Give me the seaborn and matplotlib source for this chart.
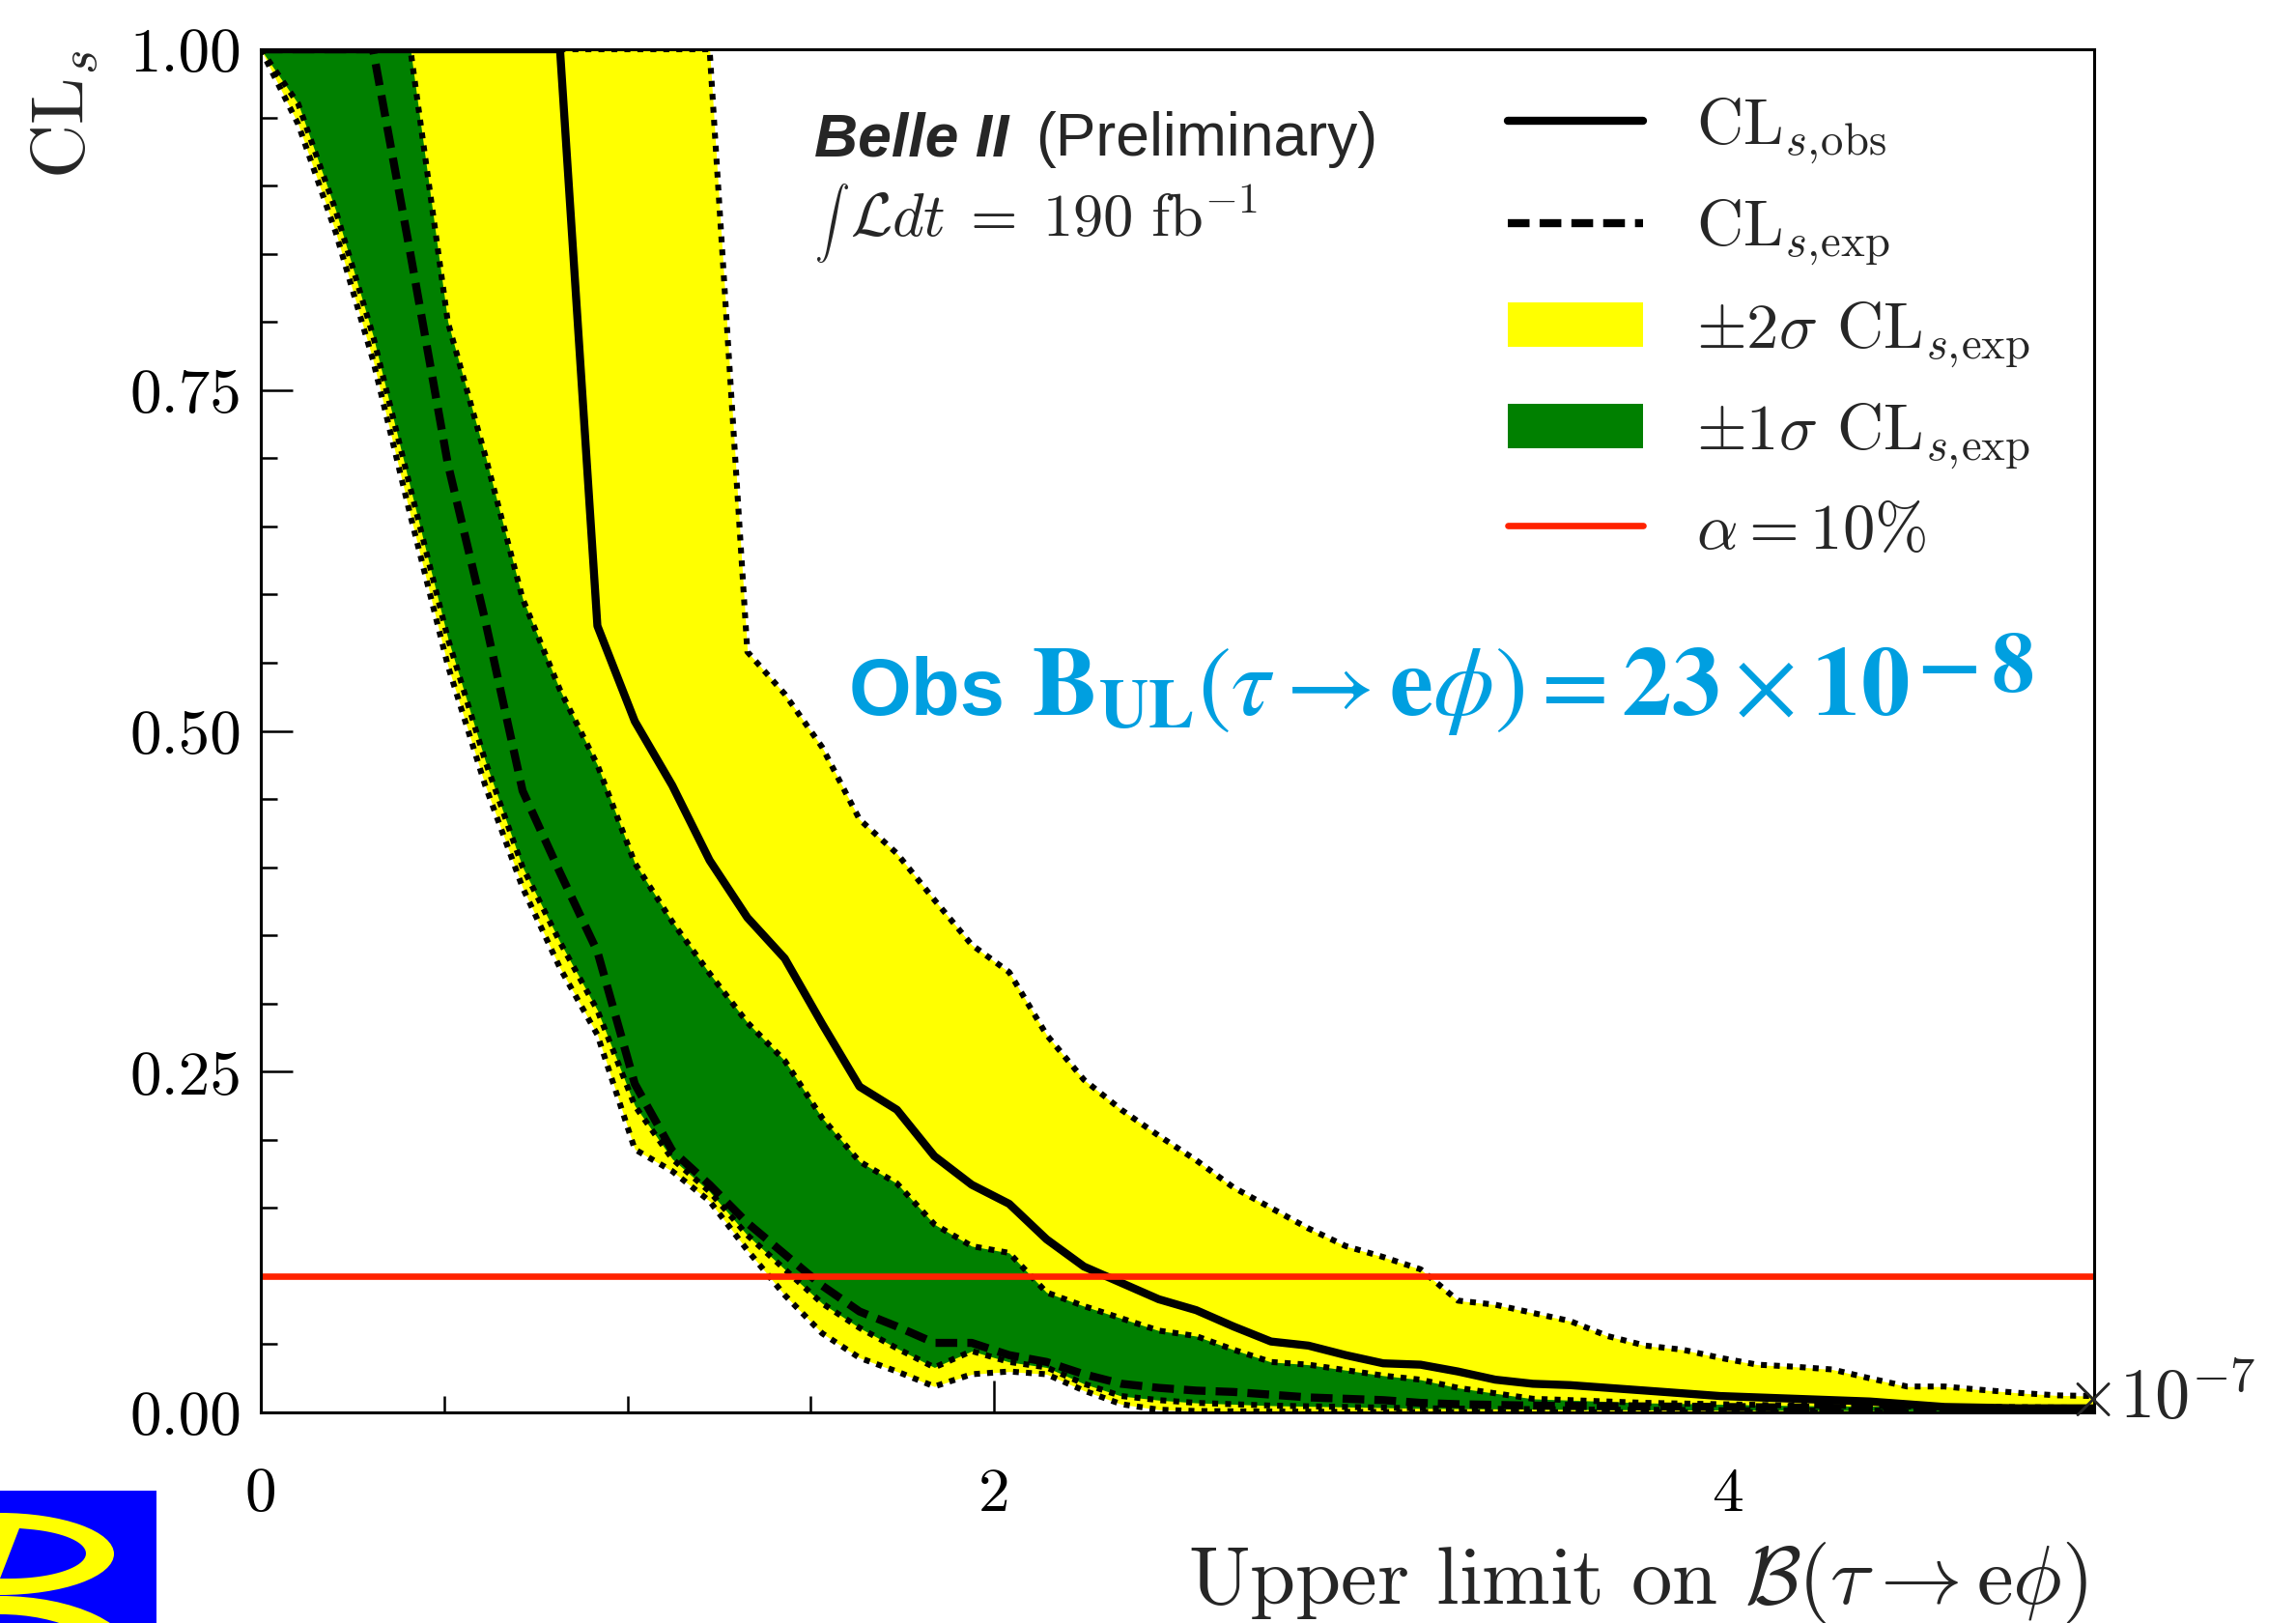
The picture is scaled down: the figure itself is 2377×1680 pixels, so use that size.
import numpy as np
import matplotlib
matplotlib.use("Agg")
import matplotlib.pyplot as plt
import seaborn as sns
import pandas as pd
from matplotlib.lines import Line2D
from matplotlib.patches import Patch, Ellipse, Polygon
from matplotlib.ticker import MultipleLocator, FormatStrFormatter

# ---------------- data (x in units of 1e-7) ----------------
x_ul = [0.000, 0.102, 0.204, 0.306, 0.408, 0.510, 0.612, 0.714, 0.816, 0.918,
        1.020, 1.122, 1.224, 1.327, 1.429, 1.531, 1.633, 1.735, 1.837, 1.939,
        2.041, 2.143, 2.245, 2.347, 2.449, 2.551, 2.653, 2.755, 2.857, 2.959,
        3.061, 3.163, 3.265, 3.367, 3.469, 3.571, 3.673, 3.776, 3.878, 3.980,
        4.082, 4.184, 4.286, 4.388, 4.490, 4.592, 4.694, 4.796, 4.898, 5.000]

cls_obs = [1.0, 1.0, 1.0, 1.0, 1.0, 1.0, 1.0, 1.0, 1.0, 0.577,
           0.507, 0.460, 0.405, 0.363, 0.333, 0.285, 0.239, 0.222, 0.188, 0.167,
           0.153, 0.127, 0.107, 0.095, 0.083, 0.075, 0.063, 0.052, 0.049, 0.042,
           0.036, 0.035, 0.030, 0.024, 0.021, 0.020, 0.018, 0.016, 0.014, 0.012,
           0.011, 0.010, 0.009, 0.008, 0.006, 0.004, 0.0035, 0.003, 0.003, 0.003]

cls_exp = [1.0, 1.0, 1.0, 1.0, 0.850, 0.696, 0.581, 0.456, 0.396, 0.338,
           0.241, 0.192, 0.167, 0.139, 0.116, 0.093, 0.074, 0.063, 0.051, 0.051,
           0.042, 0.037, 0.028, 0.021, 0.018, 0.016, 0.015, 0.013, 0.011, 0.010,
           0.009, 0.007, 0.006, 0.0055, 0.005, 0.0048, 0.0046, 0.0044, 0.0042, 0.004,
           0.0038, 0.0036, 0.0034, 0.0032, 0.003, 0.0028, 0.0026, 0.0024, 0.0022, 0.002]

cls_m2 = [1.0, 0.945, 0.866, 0.772, 0.658, 0.548, 0.460, 0.385, 0.326, 0.277,
          0.193, 0.177, 0.155, 0.119, 0.086, 0.058, 0.040, 0.030, 0.019, 0.028,
          0.030, 0.028, 0.016, 0.006, 0.002, 0.001, 0.0008, 0.0006, 0.0005, 0.0004,
          0.0003, 0.0003, 0.0002, 0.0002, 0.0002, 0.0001, 0.0001, 0.0001, 0.0001, 0.0001,
          0.0001, 0.0, 0.0, 0.0, 0.0, 0.0, 0.0, 0.0, 0.0, 0.0]

cls_m1 = [1.0, 0.960, 0.882, 0.790, 0.678, 0.568, 0.478, 0.400, 0.345, 0.295,
          0.225, 0.186, 0.162, 0.130, 0.105, 0.080, 0.062, 0.047, 0.033, 0.045,
          0.037, 0.033, 0.021, 0.012, 0.009, 0.007, 0.006, 0.005, 0.0045, 0.004,
          0.0035, 0.003, 0.0028, 0.0026, 0.0024, 0.0022, 0.002, 0.0019, 0.0018, 0.0017,
          0.0016, 0.0015, 0.0014, 0.0013, 0.0012, 0.0011, 0.001, 0.001, 0.001, 0.001]

cls_p1 = [1.0, 1.0, 1.0, 1.0, 1.0, 0.800, 0.702, 0.597, 0.530, 0.475,
          0.403, 0.360, 0.322, 0.286, 0.258, 0.216, 0.184, 0.168, 0.138, 0.122,
          0.117, 0.088, 0.078, 0.069, 0.060, 0.056, 0.046, 0.037, 0.035, 0.031,
          0.027, 0.024, 0.018, 0.014, 0.010, 0.009, 0.008, 0.007, 0.0065, 0.006,
          0.0055, 0.005, 0.0048, 0.0046, 0.0044, 0.0042, 0.004, 0.0038, 0.0036, 0.0034]

cls_p2 = [1.0, 1.0, 1.0, 1.0, 1.0, 1.0, 1.0, 1.0, 1.0, 1.0,
          1.0, 1.0, 1.0, 0.558, 0.527, 0.488, 0.435, 0.410, 0.376, 0.343,
          0.323, 0.277, 0.244, 0.222, 0.203, 0.185, 0.165, 0.150, 0.135, 0.122,
          0.114, 0.105, 0.082, 0.079, 0.073, 0.067, 0.056, 0.049, 0.046, 0.040,
          0.035, 0.0335, 0.0315, 0.025, 0.019, 0.019, 0.0165, 0.0143, 0.0125, 0.012]

alpha_level = 0.10
x_ticks = [0, 2, 4]
y_ticks = [0.00, 0.25, 0.50, 0.75, 1.00]

df = pd.DataFrame({"x": x_ul, "obs": cls_obs, "exp": cls_exp,
                   "m2": cls_m2, "m1": cls_m1, "p1": cls_p1, "p2": cls_p2})

# ---------------- style ----------------
sns.set_style("ticks")
plt.rcParams.update({
    "font.family": "serif",
    "font.serif": ["cmr10"],
    "mathtext.fontset": "cm",
    "axes.formatter.use_mathtext": True,
    "axes.unicode_minus": False,
})

W, H = 2377, 1681
fig = plt.figure(figsize=(W / 100, H / 100), dpi=100)
ax = fig.add_axes([270 / W, 1 - 1463 / H, (2168 - 270) / W, (1463 - 52) / H])

YEL = "#ffff00"
GRN = "#008000"
RED = "#ff2200"
BLUE_TXT = "#009fe0"
DOT = (0, (1.0, 1.2))
DASH = (0, (2.7, 1.25))

ax.fill_between(df["x"], df["m2"], df["p2"], color=YEL, lw=0, zorder=1)
ax.fill_between(df["x"], df["m1"], df["p1"], color=GRN, lw=0, zorder=2)

for col in ["m2", "m1", "p1", "p2"]:
    sns.lineplot(data=df, x="x", y=col, ax=ax, color="black", lw=4.4,
                 linestyle=DOT, sort=False, estimator=None, zorder=3)
sns.lineplot(data=df, x="x", y="exp", ax=ax, color="black", lw=6.0,
             linestyle=DASH, sort=False, estimator=None, zorder=4)
sns.lineplot(data=df, x="x", y="obs", ax=ax, color="black", lw=6.0,
             sort=False, estimator=None, zorder=5)
ax.axhline(alpha_level, color=RED, lw=4.8, zorder=6)

ax.set_xlim(0, 5)
ax.set_ylim(0, 1)
ax.set_xticks(x_ticks)
ax.set_yticks(y_ticks)
ax.xaxis.set_major_formatter(FormatStrFormatter("%d"))
ax.yaxis.set_major_formatter(FormatStrFormatter("%.2f"))
ax.xaxis.set_minor_locator(MultipleLocator(0.5))
ax.yaxis.set_minor_locator(MultipleLocator(0.05))
ax.tick_params(which="both", direction="in", top=False, right=False, width=1.8,
               colors="black")
ax.tick_params(which="major", length=24)
ax.tick_params(which="minor", length=12)
ax.tick_params(axis="x", which="major", labelsize=47, pad=40)
ax.tick_params(axis="y", which="major", labelsize=47, pad=14)
for s in ax.spines.values():
    s.set_linewidth(2.2)
    s.set_color("black")
    s.set_zorder(7)

ax.set_ylabel(r"CL$_s$", fontsize=56, loc="top", labelpad=22)
ax.set_xlabel(r"Upper limit on $\mathcal{B}(\tau\rightarrow\mathrm{e}\phi)$",
              fontsize=61, loc="right")
ax.xaxis.set_label_coords(0.996, -0.093)

fig.text(2138 / W, 1 - 1448 / H, r"$\times10^{-7}$", fontsize=52,
         ha="left", va="center")

# legend
handles = [
    Line2D([], [], color="black", lw=6.0),
    Line2D([], [], color="black", lw=6.0, linestyle=DASH),
    Patch(facecolor=YEL, edgecolor="none"),
    Patch(facecolor=GRN, edgecolor="none"),
    Line2D([], [], color=RED, lw=4.8),
]
labels = [r"CL$_{s,\!\mathrm{obs}}$", r"CL$_{s,\!\mathrm{exp}}$",
          r"$\pm2\sigma$ CL$_{s,\!\mathrm{exp}}$", r"$\pm1\sigma$ CL$_{s,\!\mathrm{exp}}$",
          r"$\alpha = 10\%$"]
leg = ax.legend(handles, labels, loc="upper left",
                bbox_to_anchor=((1561 - 270) / 1898, (1463 - 100) / 1411),
                frameon=False, fontsize=48, handlelength=2.1, handleheight=0.68,
                handletextpad=0.82, labelspacing=0.5, borderpad=0,
                borderaxespad=0)

# experiment labels
fig.text(843 / W, 1 - 145 / H, "Belle II", fontsize=45, fontweight="bold",
         fontstyle="italic", family="Liberation Sans", ha="left", va="center")
fig.text(1072 / W, 1 - 145 / H, "(Preliminary)", fontsize=45,
         family="Liberation Sans", ha="left", va="center")
fig.text(843 / W, 1 - 231 / H, r"$\int$", fontsize=26, ha="left", va="center")
fig.text(880 / W, 1 - 228 / H,
         r"$\mathcal{L}dt\;=\;190\ \mathrm{fb}^{-1}$", fontsize=45,
         ha="left", va="center")

fig.text(879 / W, 1 - 740 / H, "Obs", fontsize=60, fontweight="bold",
         family="Liberation Sans", color=BLUE_TXT, ha="left", va="baseline")
main_txt = fig.text(1068 / W, 1 - 740 / H,
                    r"$\mathbf{B}_{\mathbf{UL}}(\tau\rightarrow\mathbf{e}\phi)="
                    r"\mathbf{23}\times\mathbf{10}$",
                    fontsize=73, math_fontfamily="stix", color=BLUE_TXT,
                    ha="left", va="baseline")
fig.canvas.draw()
bb = main_txt.get_window_extent()
fig.text((bb.x1 + 8) / W, 1 - 716 / H, r"$\mathbf{-\,8}$", fontsize=64,
         math_fontfamily="stix", color=BLUE_TXT, ha="left", va="baseline")

# Belle II logo (bottom-left corner)
lax = fig.add_axes([0, 0, 162 / W, 137 / H])
lax.set_xlim(0, 162)
lax.set_ylim(1681, 1544)
lax.set_facecolor("#0000ff")
lax.set_xticks([])
lax.set_yticks([])
for s in lax.spines.values():
    s.set_visible(False)
lax.add_patch(Ellipse((0, 1609.5), 236, 85, color="#ffff00", lw=0))
t = np.linspace(-np.pi / 2 + 0.25, np.pi / 2, 40)
hole = [(20, 1583)] + [(10 + 79 * np.cos(a), 1609 + 26 * np.sin(a)) for a in t] + [(0, 1635)]
lax.add_patch(Polygon(hole, closed=True, color="#0000ff", lw=0))
lax.add_patch(Ellipse((0, 1720), 280, 134, color="#ffff00", lw=0))
lax.add_patch(Ellipse((0, 1728), 226, 112, color="#0000ff", lw=0))

fig.savefig("out.png", dpi=100)
